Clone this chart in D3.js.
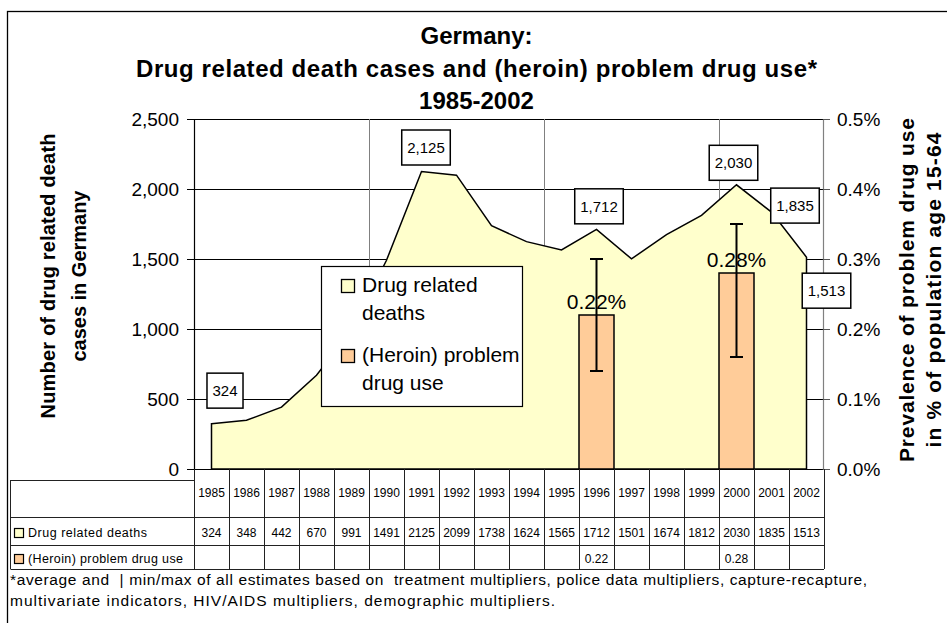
<!DOCTYPE html>
<html><head><meta charset="utf-8">
<script src="https://cdn.jsdelivr.net/npm/d3@7"></script>
<style>
body{margin:0;background:#fff}
svg{display:block;font-family:"Liberation Sans",Arial,Helvetica,sans-serif}
text{white-space:pre}
</style>
</head><body>
<svg id="c" width="947" height="623"></svg>
<script>
// ---------- data ----------
const years = [1985,1986,1987,1988,1989,1990,1991,1992,1993,1994,1995,1996,1997,1998,1999,2000,2001,2002];
const deaths = [324,348,442,670,991,1491,2125,2099,1738,1624,1565,1712,1501,1674,1812,2030,1835,1513];
const prevalence = [null,null,null,null,null,null,null,null,null,null,null,0.22,null,null,null,0.28,null,null];
const prevalenceMin = [null,null,null,null,null,null,null,null,null,null,null,0.14,null,null,null,0.16,null,null];
const prevalenceMax = [null,null,null,null,null,null,null,null,null,null,null,0.30,null,null,null,0.35,null,null];
const leftTicks = [0,500,1000,1500,2000,2500];
const rightTicks = [0,0.1,0.2,0.3,0.4,0.5];
const seriesNames = ["Drug related deaths","(Heroin) problem drug use"];
const labelledYears = [1985,1991,1996,2000,2001,2002];
const titleLines = ["Germany:","Drug related death cases and (heroin) problem drug use*","1985-2002"];
const leftTitle = ["Number of drug related death","cases in Germany"];
const rightTitle = ["Prevalence of problem drug use","in % of population age 15-64"];
const footnote = ["*average and  | min/max of all estimates based on  treatment multipliers, police data multipliers, capture-recapture,",
                  "multivariate indicators, HIV/AIDS multipliers, demographic multipliers."];

// ---------- layout ----------
const C = {area:"#FFFFCC", bar:"#FFCC99"};
const L = 194, R = 824, T = 119, B = 469;
const svg = d3.select("#c");

const x = d3.scaleBand().domain(years).range([L, R]).padding(0);
const bw = x.bandwidth();
const yL = d3.scaleLinear().domain([0,2500]).range([B, T]);
const yR = d3.scaleLinear().domain([0,0.5]).range([B, T]);
const cx = yr => x(yr) + bw/2;

// outer border (clipped right/bottom like the reference)
svg.append("rect").attr("x",7.5).attr("y",11.5).attr("width",960).attr("height",640)
  .attr("fill","none").attr("stroke","#000").attr("stroke-width",1.3);

// gridlines
const g = svg.append("g");
g.selectAll("line.h").data(leftTicks).join("line")
  .attr("x1",L).attr("x2",R-1).attr("y1",d=>Math.round(yL(d))+0.5).attr("y2",d=>Math.round(yL(d))+0.5)
  .attr("stroke","#000").attr("stroke-width",1);
g.selectAll("line.v").data(years.filter((d,i)=>i>0 && i%5===0)).join("line")
  .attr("x1",d=>Math.round(x(d))+0.5).attr("x2",d=>Math.round(x(d))+0.5).attr("y1",T).attr("y2",B)
  .attr("stroke","#808080").attr("stroke-width",1);

// area
const pts = years.map((yr,i)=>({yr, v:deaths[i]}));
const area = d3.area().x(d=>cx(d.yr)).y0(yL(0)).y1(d=>yL(d.v));
svg.append("path").datum(pts).attr("d", area)
  .attr("fill",C.area).attr("stroke","#000").attr("stroke-width",1.5).attr("stroke-linejoin","miter");

// bars
const bars = years.map((yr,i)=>({yr, v:prevalence[i], lo:prevalenceMin[i], hi:prevalenceMax[i]})).filter(d=>d.v!=null);
svg.selectAll("rect.bar").data(bars).join("rect")
  .attr("x",d=>x(d.yr)).attr("width",bw).attr("y",d=>yR(d.v)).attr("height",d=>yR(0)-yR(d.v))
  .attr("fill",C.bar).attr("stroke","#000").attr("stroke-width",1.5);

// bar value labels
svg.selectAll("text.bv").data(bars).join("text")
  .attr("x",d=>cx(d.yr)).attr("y",d=>yR(d.v)-6).attr("text-anchor","middle")
  .attr("font-size",21).text(d=>d.v.toFixed(2)+"%");

// error bars
const eb = svg.append("g").attr("stroke","#000").attr("stroke-width",2);
bars.forEach(d=>{
  eb.append("line").attr("x1",cx(d.yr)).attr("x2",cx(d.yr)).attr("y1",yR(d.lo)).attr("y2",yR(d.hi));
  [d.lo,d.hi].forEach(v=>eb.append("line").attr("x1",cx(d.yr)-6.5).attr("x2",cx(d.yr)+6.5).attr("y1",yR(v)).attr("y2",yR(v)));
});

// axes
const axL = svg.append("g").attr("transform",`translate(${L},0)`)
  .call(d3.axisLeft(yL).tickValues(leftTicks).tickSize(7).tickPadding(8).tickFormat(d3.format(",")));
axL.select(".domain").attr("stroke","#000").attr("stroke-width",1.2);
axL.selectAll("text").attr("font-size",19).attr("font-family","Liberation Sans, Arial").attr("fill","#000");
const axR = svg.append("g").attr("transform",`translate(${R-1},0)`)
  .call(d3.axisRight(yR).tickValues(rightTicks).tickSize(7).tickPadding(7).tickFormat(d=>d.toFixed(1)+"%"));
axR.select(".domain").attr("stroke","#808080").attr("stroke-width",1.2);
axR.selectAll(".tick line").attr("stroke","#555");
axR.selectAll("text").attr("font-size",19).attr("font-family","Liberation Sans, Arial").attr("fill","#000");

// data labels
const lblOffset = {1985:[13.5,-33],1991:[4.5,-24],1996:[2.5,-23],2000:[-3,-22],2001:[23.5,-6.5],2002:[20,33.5]};
labelledYears.forEach(yr=>{
  const i = years.indexOf(yr);
  const px = cx(yr) + lblOffset[yr][0], py = yL(deaths[i]) + lblOffset[yr][1];
  const gg = svg.append("g");
  const r = gg.append("rect");
  const t = gg.append("text").attr("x",px).attr("y",py+5.5).attr("text-anchor","middle")
    .attr("font-size",15).text(d3.format(",")(deaths[i]));
  const w = t.node().getComputedTextLength()+11;
  r.attr("x",px-w/2).attr("y",py-17.5).attr("width",w).attr("height",35)
    .attr("fill","#fff").attr("stroke","#000").attr("stroke-width",1.5);
});

// legend
const lg = svg.append("g");
lg.append("rect").attr("x",321.5).attr("y",266.5).attr("width",201).attr("height",140)
  .attr("fill","#fff").attr("stroke","#000").attr("stroke-width",1.2);
const legLines = [["Drug related","deaths"],["(Heroin) problem","drug use"]];
[C.area, C.bar].forEach((col,k)=>{
  const top = 279 + k*70;
  lg.append("rect").attr("x",341.5).attr("y",top+0.5).attr("width",13).attr("height",13)
    .attr("fill",col).attr("stroke","#000").attr("stroke-width",1.3);
  legLines[k].forEach((s,j)=>lg.append("text").attr("x",362).attr("y",top+13+j*28)
    .attr("font-size",21).text(s));
});

// title
titleLines.forEach((s,i)=>{
  const t = svg.append("text").attr("x",476.5).attr("y",44+i*32.5)
    .attr("text-anchor","middle").attr("font-size",24).attr("font-weight","bold").text(s);
  if (i===1) t.attr("textLength",681).attr("lengthAdjust","spacing");
});

// axis titles
const ltLen = [285,171];
leftTitle.forEach((s,i)=>svg.append("text")
  .attr("transform",`translate(${55+i*31},276) rotate(-90)`).attr("text-anchor","middle")
  .attr("font-size",20).attr("font-weight","bold")
  .attr("textLength",ltLen[i]).attr("lengthAdjust","spacing").text(s));
const rtLen = [344,315];
rightTitle.forEach((s,i)=>svg.append("text")
  .attr("transform",`translate(${914+i*27},290) rotate(-90)`).attr("text-anchor","middle")
  .attr("font-size",21).attr("font-weight","bold")
  .attr("textLength",rtLen[i]).attr("lengthAdjust","spacing").text(s));

// data table
const tb = svg.append("g").attr("stroke","#222").attr("stroke-width",1);
const rowY = [517, 545, 569];
d3.range(years.length+1).forEach(k=>{
  const xx = Math.round(L + k*bw)+0.5;
  tb.append("line").attr("x1",xx).attr("x2",xx).attr("y1",B).attr("y2",rowY[2]);
});
tb.append("line").attr("x1",10.5).attr("x2",10.5).attr("y1",480).attr("y2",rowY[2]);
tb.append("line").attr("x1",10.5).attr("x2",L).attr("y1",480.5).attr("y2",480.5);
rowY.forEach(yy=>tb.append("line").attr("x1",10.5).attr("x2",R).attr("y1",yy+0.5).attr("y2",yy+0.5));
svg.selectAll("text.yr").data(years).join("text").attr("x",d=>cx(d)).attr("y",497)
  .attr("text-anchor","middle").attr("font-size",12).text(d=>d);
svg.selectAll("text.dv").data(years).join("text").attr("x",d=>cx(d)).attr("y",537)
  .attr("text-anchor","middle").attr("font-size",12).text((d,i)=>deaths[i]);
svg.selectAll("text.pv").data(years).join("text").attr("x",d=>cx(d)).attr("y",563)
  .attr("text-anchor","middle").attr("font-size",12).text((d,i)=>prevalence[i]==null?"":prevalence[i].toFixed(2));
const snLen = [119,155];
[C.area,C.bar].forEach((col,k)=>{
  const yy = k===0?528:554;
  svg.append("rect").attr("x",14.5).attr("y",yy+0.5).attr("width",9).attr("height",9)
    .attr("fill",col).attr("stroke","#000").attr("stroke-width",1.2);
  svg.append("text").attr("x",28).attr("y",k===0?537:563).attr("font-size",12.5)
    .attr("textLength",snLen[k]).attr("lengthAdjust","spacing").text(seriesNames[k]);
});

// footnote
const fnLen = [857,545];
footnote.forEach((s,i)=>svg.append("text").attr("x",10).attr("y",585+i*21)
  .attr("font-size",15.5).attr("textLength",fnLen[i]).attr("lengthAdjust","spacing").text(s));
</script>
</body></html>
